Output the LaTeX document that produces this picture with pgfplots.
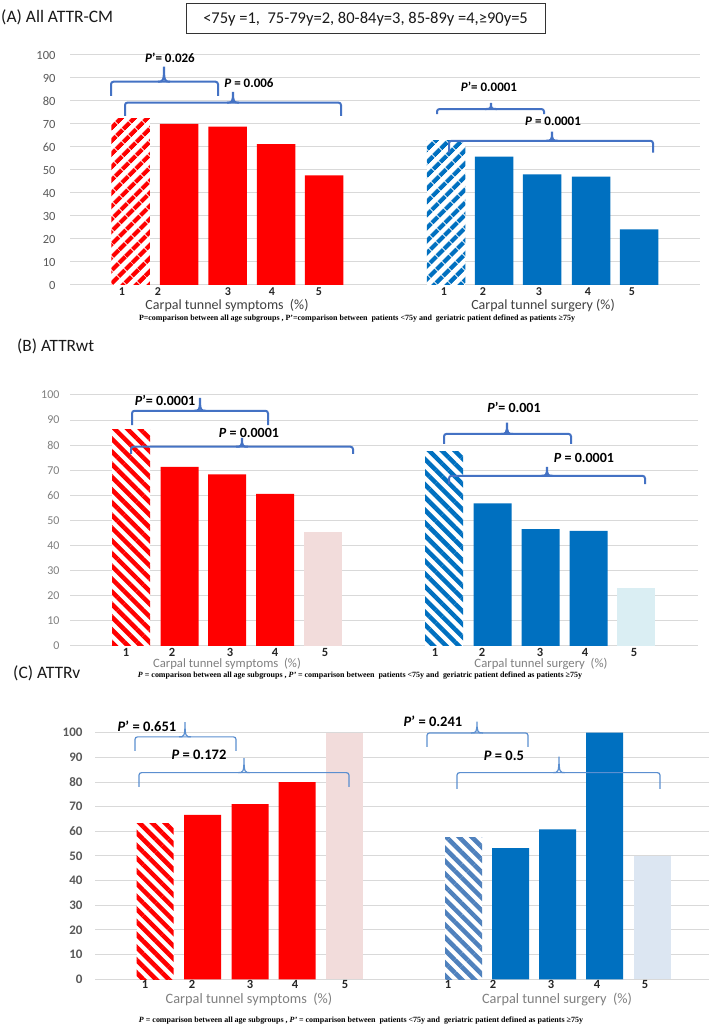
\documentclass[border=0pt]{standalone}
\usepackage{fontspec}
\setmainfont{Carlito}
\newfontfamily\timesf{Liberation Serif}
\usepackage{pgfplots}
\pgfplotsset{compat=1.18}
\usetikzlibrary{patterns.meta}
\definecolor{cred}{HTML}{FF0000}
\definecolor{cblue}{HTML}{0070C0}
\definecolor{cpink}{HTML}{F2DCDB}
\definecolor{clb}{HTML}{DAEEF3}
\definecolor{clbb}{HTML}{DCE6F2}
\definecolor{chb}{HTML}{4F81BD}
\definecolor{cbrace}{HTML}{4472C4}
\definecolor{cbraceb}{HTML}{5B8FD0}
\definecolor{cgrid}{HTML}{D9D9D9}
\newcommand{\fs}[1]{\fontsize{#1bp}{#1bp}\selectfont}
% brace: xL xR yEnd yH xTip yTop style
\newcommand{\brc}[7]{%
\draw[#7,rounded corners=2.5bp] (axis cs:#1,#3) -- (axis cs:#1,#4) -- (axis cs:#2,#4) -- (axis cs:#2,#3);
\draw[#7] (axis cs:{#5-6},#4) .. controls (axis cs:{#5-1},#4) and (axis cs:#5,#4) .. (axis cs:#5,#6) .. controls (axis cs:#5,#4) and (axis cs:{#5+1},#4) .. (axis cs:{#5+6},#4);}
\newcommand{\pv}[1]{\textbf{\textit{P}#1}}
\pgfplotsset{
  panel/.style={
    anchor=south west, enlargelimits=false, clip=false,
    axis line style={draw=none}, major tick length=0pt,
    ymin=0, ymax=100, ytick={0,10,...,100},
    ymajorgrids, grid style={cgrid, line width=1bp},
    xticklabels={1,2,3,4,5,1,2,3,4,5},
    /pgf/number format/assume math mode=true,
  },
  bars/.style={ybar, bar shift=0pt, draw=none},
}
\begin{document}
\begin{tikzpicture}
\path[use as bounding box, fill=white] (0,0) rectangle (709bp,1027bp);

% ---------- titles, legend, labels, footnotes ----------
\node[anchor=west, inner sep=0pt, text=black!90] at (1bp,1010bp) {\fs{17.5}(A) All ATTR-CM};
\node[draw=black!80, line width=1bp, minimum width=359bp, minimum height=30bp, inner sep=0pt, text=black!90] at (365.5bp,1008bp) {\fs{16.5}<75y =1,\ \ 75-79y=2, 80-84y=3, 85-89y =4,≥90y=5};
\node[anchor=west, inner sep=0pt, text=black!90] at (17bp,680.3bp) {\fs{17.3}(B) ATTRwt};
\node[anchor=west, inner sep=0pt, text=black!90] at (13bp,354bp) {\fs{17.5}(C) ATTRv};

\node[inner sep=0pt, text=black!75] at (227bp,721.8bp) {\fs{14}Carpal tunnel symptoms\ \ (\%)};
\node[inner sep=0pt, text=black!75] at (543bp,721.8bp) {\fs{14}Carpal tunnel surgery (\%)};
\node[inner sep=0pt, text=black!50] at (227bp,363.5bp) {\fs{12.7}Carpal tunnel symptoms\ \ (\%)};
\node[inner sep=0pt, text=black!50] at (541bp,363.5bp) {\fs{12.7}Carpal tunnel surgery\ \ (\%)};
\node[inner sep=0pt, text=black!50] at (249bp,27.5bp) {\fs{14.3}Carpal tunnel symptoms\ \ (\%)};
\node[inner sep=0pt, text=black!50] at (557bp,27.5bp) {\fs{14.3}Carpal tunnel surgery\ \ (\%)};

\node[inner sep=0pt] at (357bp,708.5bp) {\resizebox{436bp}{!}{\timesf\bfseries\fs{8}P=comparison between all age subgroups , P’=comparison between\ \ patients <75y and\ \ geriatric patient defined as patients ≥75y}};
\node[inner sep=0pt] at (360bp,351bp) {\resizebox{444bp}{!}{\timesf\bfseries\fs{8}\textit{P} = comparison between all age subgroups , \textit{P’} = comparison between\ \ patients <75y and\ \ geriatric patient defined as patients ≥75y}};
\node[inner sep=0pt] at (361bp,6.5bp) {\resizebox{444bp}{!}{\timesf\bfseries\fs{8}\textit{P} = comparison between all age subgroups , \textit{P’} = comparison between\ \ patients <75y and\ \ geriatric patient defined as patients ≥75y}};

% ---------- Panel A ----------
\begin{axis}[panel, at={(70bp,742bp)}, x=1bp, y=2.3bp, xmin=70, xmax=700,
  xtick={122,158,228,272,319,444,483,539,588,632},
  xticklabel style={font=\fs{12}\bfseries, text=black!85, inner sep=0.5bp, yshift=-2.3bp},
  yticklabel style={font=\fs{12.5}, text=black!65, xshift=-11bp}]
\addplot[bars, bar width=38.5, preaction={fill=white}, pattern={Lines[angle=45,distance=10bp,line width=5bp]}, pattern color=cred] coordinates {(130.5,72.2)};
\addplot[bars, bar width=38.5, fill=cred] coordinates {(179,70) (227.5,68.8) (276,61.2) (324,47.7)};
\addplot[bars, bar width=38.5, preaction={fill=white}, pattern={Lines[angle=45,distance=10bp,line width=5bp]}, pattern color=cblue] coordinates {(446,62.7)};
\addplot[bars, bar width=38.5, fill=cblue] coordinates {(494,55.8) (542,48.1) (591,47.1) (639,24.2)};
\brc{111}{218}{82.2}{88.4}{164}{94.9}{cbrace, line width=2bp}
\brc{125}{341}{73.5}{79.3}{233}{84.0}{cbrace, line width=2bp}
\brc{437}{544}{74.3}{76.5}{491}{79.1}{cbrace, line width=2bp}
\brc{449}{653}{57.5}{62.7}{552}{66.7}{cbrace, line width=2bp}
\node[inner sep=0pt] at (axis cs:170,98.6) {\fs{13}\pv{’= 0.026}};
\node[inner sep=0pt] at (axis cs:249,87.8) {\fs{13}\pv{ = 0.006}};
\node[inner sep=0pt] at (axis cs:489,86.1) {\fs{13}\pv{’= 0.0001}};
\node[inner sep=0pt] at (axis cs:553,71) {\fs{13}\pv{ = 0.0001}};
\end{axis}

% ---------- Panel B ----------
\begin{axis}[panel, at={(70bp,381bp)}, x=1bp, y=2.51bp, xmin=70, xmax=698,
  xtick={126,172,230,275,325,435,482,540,585,634},
  xticklabel style={font=\fs{12.5}\bfseries, text=black!85, inner sep=0.5bp, yshift=-1.2bp},
  yticklabel style={font=\fs{12}, text=black!50, xshift=-7bp}]
\addplot[bars, bar width=38, preaction={fill=white}, pattern={Lines[angle=-45,distance=9bp,line width=4.5bp]}, pattern color=cred] coordinates {(131,86.3)};
\addplot[bars, bar width=38, fill=cred] coordinates {(179.5,71.4) (227,68.4) (275,60.6)};
\addplot[bars, bar width=38, fill=cpink] coordinates {(323,45.3)};
\addplot[bars, bar width=38, preaction={fill=white}, pattern={Lines[angle=-45,distance=9bp,line width=4.5bp]}, pattern color=cblue] coordinates {(444,77.6)};
\addplot[bars, bar width=38, fill=cblue] coordinates {(492.5,56.8) (540.5,46.6) (588.5,45.9)};
\addplot[bars, bar width=38, fill=clb] coordinates {(636,23.0)};
\brc{132}{268}{88.0}{93.7}{200}{98.8}{cbrace, line width=2bp}
\brc{131}{353}{76.5}{79.4}{242}{82.9}{cbrace, line width=2bp}
\brc{444}{571}{80.5}{84.5}{507}{89}{cbrace, line width=2bp}
\brc{449}{645}{64.5}{67.8}{547}{71.4}{cbrace, line width=2bp}
\node[inner sep=0pt] at (axis cs:165,98) {\fs{14}\pv{’= 0.0001}};
\node[inner sep=0pt] at (axis cs:249,85) {\fs{14}\pv{ = 0.0001}};
\node[inner sep=0pt] at (axis cs:514,95.2) {\fs{14}\pv{’= 0.001}};
\node[inner sep=0pt] at (axis cs:584,74.9) {\fs{14}\pv{ = 0.0001}};
\end{axis}

% ---------- Panel C ----------
\begin{axis}[panel, at={(95bp,47.7bp)}, x=1bp, y=2.466bp, xmin=95, xmax=709,
  xtick={145,192,250,295,345,448,493,551,597,645},
  xticklabel style={font=\fs{12.5}\bfseries, text=black!85, inner sep=0.5bp, yshift=-0.8bp},
  yticklabel style={font=\fs{13}\bfseries, text=black!65, xshift=-9bp}]
\addplot[bars, bar width=37, preaction={fill=white}, pattern={Lines[angle=-45,distance=9bp,line width=4.5bp]}, pattern color=cred] coordinates {(155,63)};
\addplot[bars, bar width=37, fill=cred] coordinates {(202.5,66.7) (250,71) (297,80)};
\addplot[bars, bar width=37, fill=cpink] coordinates {(344,100)};
\addplot[bars, bar width=37, preaction={fill=white}, pattern={Lines[angle=-45,distance=9bp,line width=4.5bp]}, pattern color=chb] coordinates {(463.5,57.6)};
\addplot[bars, bar width=37, fill=cblue] coordinates {(510.5,53.2) (557.5,60.8) (604.5,100)};
\addplot[bars, bar width=37, fill=clbb] coordinates {(652,50)};
\brc{135}{236}{92.6}{98.3}{185}{104.3}{cbraceb, line width=1.2bp}
\brc{139}{349}{78}{83.8}{244}{89.7}{cbraceb, line width=1.2bp}
\brc{427}{528}{94.2}{99.9}{477}{104.5}{cbraceb, line width=1.2bp}
\brc{457}{660}{77.2}{83.8}{559}{90.3}{cbraceb, line width=1.2bp}
\node[inner sep=0pt] at (axis cs:147,102.8) {\fs{14.5}\pv{’ = 0.651}};
\node[inner sep=0pt] at (axis cs:199,91) {\fs{14.5}\pv{ = 0.172}};
\node[inner sep=0pt] at (axis cs:433,104.5) {\fs{14.5}\pv{’ = 0.241}};
\node[inner sep=0pt] at (axis cs:504,90.7) {\fs{14.5}\pv{ = 0.5}};
\end{axis}
\end{tikzpicture}
\end{document}
